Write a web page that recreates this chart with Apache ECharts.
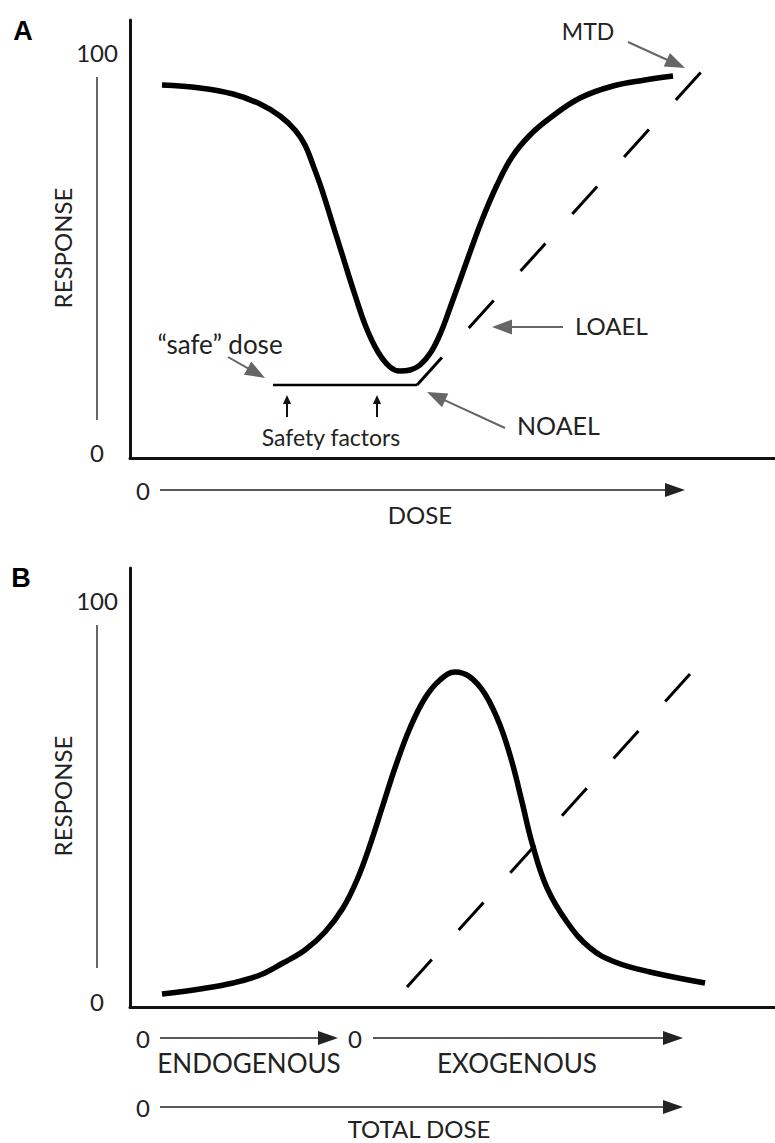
<!DOCTYPE html>
<html>
<head>
<meta charset="utf-8">
<script src="https://cdn.jsdelivr.net/npm/echarts@6.0.0/dist/echarts.min.js"></script>
<style>
html,body{margin:0;padding:0;background:#fff;}
#chart{width:775px;height:1143px;}
</style>
</head>
<body>
<div id="chart"></div>
<script>
// ---- Data (dose on 0-100 scale, response on 0-100 scale) ----
const curveA = [
  [4.96,91.97],[10.85,91.23],[15.97,89.75],[20.16,87.29],[23.26,84.33],[25.58,80.88],
  [27.13,77.18],[28.37,72.24],[29.77,66.08],[31.32,58.19],[33.02,49.56],[34.88,40.19],
  [36.59,32.30],[38.45,26.14],[40.31,22.44],[41.86,21.45],[43.41,21.70],[44.96,22.93],
  [46.67,26.14],[48.22,31.07],[49.61,36.99],[51.01,43.15],[52.56,50.05],[54.57,58.68],
  [56.90,67.31],[59.22,74.22],[62.02,79.64],[65.12,83.84],[69.77,88.77],[74.88,91.73],
  [79.84,93.20],[84.19,94.19]
];
const safeDoseLineA = [[22.17,18.0],[44.5,18.0]];
const doseResponseLineA = [[44.5,18.0],[88.84,95.67]];

const curveB = [
  [4.96,3.20],[10.85,4.43],[15.97,5.90],[20.16,7.87],[23.72,10.82],[27.13,14.02],
  [30.23,18.45],[33.02,24.36],[35.19,31.24],[37.21,39.85],[39.22,49.70],[41.24,59.54],
  [43.41,68.64],[45.74,76.02],[48.06,80.45],[50.39,82.42],[52.71,81.19],[55.04,77.00],
  [57.36,69.38],[59.22,60.27],[60.78,50.43],[62.33,40.35],[64.65,29.28],[67.75,20.91],
  [71.32,14.52],[75.19,11.07],[80.62,8.61],[89.15,5.90]
];
const exogenousLineB = [[42.95,4.92],[86.82,81.92]];

const yTickValues = [0, 100];
const yAxisTitle = 'RESPONSE';

// ---- Styling helpers ----
const FONT = 'Lato, "Noto Sans", sans-serif';
const TXT = '#222';
const GRAY = '#666';

function arrow(x1, y1, x2, y2, color, lw, hl, hw) {
  const dx = x2 - x1, dy = y2 - y1, L = Math.sqrt(dx*dx + dy*dy);
  const ux = dx / L, uy = dy / L, px = -uy, py = ux;
  const bx = x2 - ux*hl, by = y2 - uy*hl;
  return [
    {type:'line', shape:{x1:x1, y1:y1, x2:bx + ux*2, y2:by + uy*2}, style:{stroke:color, lineWidth:lw}, silent:true},
    {type:'polygon', shape:{points:[[x2,y2],[bx + px*hw/2, by + py*hw/2],[bx - px*hw/2, by - py*hw/2]]}, style:{fill:color}, silent:true}
  ];
}
function text(t, x, y, opts) {
  opts = opts || {};
  return {type:'text', x:x, y:y, rotation:opts.rotation || 0, silent:true,
    style:{text:t, x:0, y:0, fill:opts.color || TXT,
      font:(opts.weight ? opts.weight + ' ' : '') + (opts.size || 24) + 'px ' + (opts.family || FONT),
      textAlign:opts.align || 'center', align:opts.align || 'center',
      textVerticalAlign:'middle', verticalAlign:'middle'}};
}
function vline(x, y1, y2, color, lw) {
  return {type:'line', shape:{x1:x, y1:y1, x2:x, y2:y2}, style:{stroke:color, lineWidth:lw}, silent:true};
}

const graphics = [].concat(
  [text('A', 23, 31, {family:'"Liberation Sans", Arial, sans-serif', weight:'bold', size:27, color:'#000'}),
   text('B', 21, 578, {family:'"Liberation Sans", Arial, sans-serif', weight:'bold', size:27, color:'#000'}),
   text(yAxisTitle, 62, 248, {rotation:Math.PI/2}),
   text(yAxisTitle, 62, 796, {rotation:Math.PI/2}),
   vline(97, 77, 420, '#333', 1.5),
   vline(97, 625, 968, '#333', 1.5),
   // Panel A dose axis
   text('0', 143, 490),
   text('DOSE', 420, 514),
   // Panel A annotations
   text('MTD', 588, 31, {size:23}),
   text('\u201Csafe\u201D dose', 220, 344, {size:26}),
   text('LOAEL', 575, 325, {align:'left'}),
   text('NOAEL', 517, 425, {align:'left', size:25}),
   text('Safety factors', 331, 437, {size:23}),
   // Panel B dose axes
   text('0', 143, 1038),
   text('0', 355, 1038),
   text('ENDOGENOUS', 249, 1063, {size:26}),
   text('EXOGENOUS', 517, 1063, {size:26}),
   text('0', 143, 1107),
   text('TOTAL DOSE', 419, 1128)
  ],
  arrow(160, 490, 685, 490, '#222', 1.5, 20, 14),
  arrow(160, 1038, 338, 1038, '#222', 1.5, 20, 14),
  arrow(373, 1038, 683, 1038, '#222', 1.5, 20, 14),
  arrow(160, 1107, 683, 1107, '#222', 1.5, 20, 14),
  arrow(628, 42, 685, 68, GRAY, 2, 20, 15),
  arrow(228, 357, 265, 378, GRAY, 2, 20, 15),
  arrow(563, 327, 492, 327, GRAY, 2, 20, 15),
  arrow(505, 428, 427, 392, GRAY, 2, 20, 15),
  arrow(287, 417, 287, 395, '#111', 2, 9, 8),
  arrow(377, 417, 377, 395, '#111', 2, 9, 8)
);

function xAx(i) {
  return {gridIndex:i, type:'value', min:0, max:100,
    axisLine:{show:true, onZero:false, lineStyle:{color:'#111', width:3}},
    axisTick:{show:false}, axisLabel:{show:false}, splitLine:{show:false}};
}
function yAx(i) {
  return {gridIndex:i, type:'value', min:0, max:108,
    axisLine:{show:true, onZero:false, lineStyle:{color:'#111', width:3}},
    axisTick:{show:false}, splitLine:{show:false},
    axisLabel:{customValues:yTickValues, margin:33, align:'center', color:TXT, fontSize:24, fontFamily:FONT,
      formatter:function(v){ return v === 0 ? '{lo|0}' : '{hi|' + v + '}'; },
      rich:{lo:{fontSize:24, fontFamily:FONT, color:TXT, padding:[0,0,12,0]},
            hi:{fontSize:24, fontFamily:FONT, color:TXT}}}};
}
function lineSeries(i, data, width, type) {
  return {type:'line', xAxisIndex:i, yAxisIndex:i, data:data, symbol:'none', silent:true,
    smooth: type === 'curve' ? 0.4 : false,
    lineStyle:{color:'#000', width:width, type: type === 'dash' ? [37,40] : 'solid', cap:'butt'},
    z: type === 'curve' ? 3 : 2, animation:false};
}

const chart = echarts.init(document.getElementById('chart'), null, {renderer:'svg'});
chart.setOption({
  animation:false,
  backgroundColor:'#fff',
  grid:[
    {left:130, right:0, top:20, height:438},
    {left:130, right:0, top:568, height:439}
  ],
  xAxis:[xAx(0), xAx(1)],
  yAxis:[yAx(0), yAx(1)],
  series:[
    lineSeries(0, curveA, 5.5, 'curve'),
    lineSeries(0, safeDoseLineA, 2.5, 'solid'),
    lineSeries(0, doseResponseLineA, 3, 'dash'),
    lineSeries(1, curveB, 5.5, 'curve'),
    lineSeries(1, exogenousLineB, 3, 'dash')
  ],
  graphic:{elements:graphics}
});
</script>
</body>
</html>
